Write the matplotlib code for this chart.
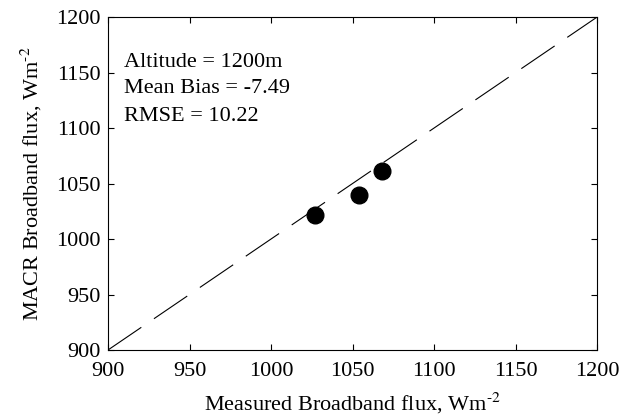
import matplotlib
matplotlib.use("Agg")
import matplotlib.pyplot as plt

measured = [1027, 1054, 1068]
macr = [1022, 1040, 1061]
line_x = [900, 1200]
ticks = [900, 950, 1000, 1050, 1100, 1150, 1200]
annotations = ["Altitude = 1200m", "Mean Bias = -7.49", "RMSE = 10.22"]

plt.rcParams['font.family'] = ['Liberation Serif', 'DejaVu Serif']
plt.rcParams['mathtext.fontset'] = 'stix'
plt.rcParams['lines.scale_dashes'] = False

fig = plt.figure(figsize=(6.19, 4.17), dpi=100)
ax = fig.add_axes([0.1745, 0.1607, 0.79, 0.7983])

ax.plot(line_x, line_x, color='black', linewidth=0.8, dashes=(29, 11))
ax.plot(measured, macr, 'o', color='black', markersize=12)

ax.set_xlim(900, 1200)
ax.set_ylim(900, 1200)
ax.set_xticks(ticks)
ax.set_yticks(ticks)
ax.tick_params(direction='in', top=True, right=True, length=4, labelsize=16)
ax.tick_params(axis='x', pad=8.5)
ax.tick_params(axis='y', pad=5)
for s in ax.spines.values():
    s.set_linewidth(0.8)

ax.set_xlabel(r'Measured Broadband flux, Wm$^{\text{-2}}$', fontsize=16, labelpad=7)
ax.set_ylabel(r'MACR Broadband flux, Wm$^{\text{-2}}$', fontsize=16, labelpad=9)

ys = [1159, 1136, 1110]
for t, y in zip(annotations, ys):
    ax.text(910, y, t, fontsize=16, va='center', ha='left')

fig.savefig('out.png', dpi=100)
